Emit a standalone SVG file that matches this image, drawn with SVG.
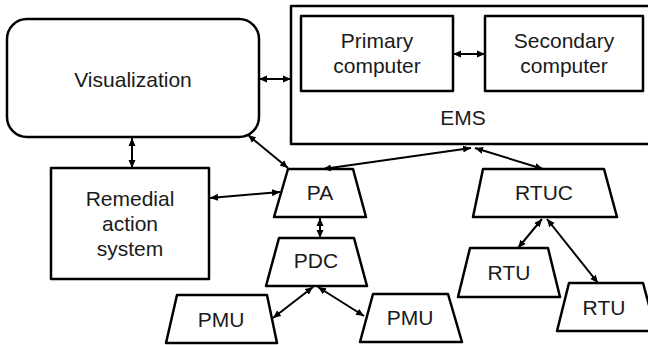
<svg xmlns="http://www.w3.org/2000/svg" width="648" height="345" viewBox="0 0 648 345">
<style>
.box{fill:#fff;stroke:#000;stroke-width:2.5;stroke-linejoin:round}
.t{font-family:"Liberation Sans",Arial,sans-serif;font-size:21px;fill:#1a1a1a;text-anchor:middle}
.c{stroke:#000;stroke-width:2;fill:none;marker-start:url(#ah);marker-end:url(#ah)}
</style>
<defs>
<marker id="ah" markerUnits="userSpaceOnUse" markerWidth="10" markerHeight="8" refX="8" refY="4" orient="auto-start-reverse">
<path d="M0,0.5 L8,4 L0,7.5 Z" fill="#000"/>
</marker>
</defs>
<g id="visualization">
<rect class="box" x="7" y="19" width="252" height="118" rx="20"/>
<text class="t" x="133" y="87">Visualization</text>
</g>
<g id="ems">
<rect class="box" x="291" y="6" width="370" height="138"/>
<text class="t" x="463" y="125">EMS</text>
</g>
<g id="primary">
<rect class="box" x="301" y="16" width="152" height="75"/>
<text class="t" x="377" y="48">Primary</text>
<text class="t" x="377" y="73">computer</text>
</g>
<g id="secondary">
<rect class="box" x="485" y="16" width="158" height="75"/>
<text class="t" x="564" y="48">Secondary</text>
<text class="t" x="564" y="73">computer</text>
</g>
<g id="remedial">
<rect class="box" x="51" y="168" width="158" height="111"/>
<text class="t" x="130" y="206">Remedial</text>
<text class="t" x="130" y="231">action</text>
<text class="t" x="130" y="256">system</text>
</g>
<g id="pa">
<polygon class="box" points="288,169 353,169 366,217 274,217"/>
<text class="t" x="320" y="200">PA</text>
</g>
<g id="pdc">
<polygon class="box" points="279,238 354,238 367,286 266,286"/>
<text class="t" x="316" y="268">PDC</text>
</g>
<g id="pmu1">
<polygon class="box" points="177,295 267,295 277,343 166,343"/>
<text class="t" x="221" y="327">PMU</text>
</g>
<g id="pmu2">
<polygon class="box" points="373,294 448,294 462,342 360,342"/>
<text class="t" x="410" y="325">PMU</text>
</g>
<g id="rtuc">
<polygon class="box" points="483,169 604,169 617,217 473,217"/>
<text class="t" x="544" y="200">RTUC</text>
</g>
<g id="rtu1">
<polygon class="box" points="470,248 548,248 560,297 458,297"/>
<text class="t" x="509" y="280">RTU</text>
</g>
<g id="rtu2">
<polygon class="box" points="569,283 643,283 656,331 557,331"/>
<text class="t" x="604" y="315">RTU</text>
</g>
<g id="connectors">
<line class="c" x1="259" y1="79" x2="291" y2="79"/>
<line class="c" x1="453" y1="54" x2="485" y2="54"/>
<line class="c" x1="132" y1="138" x2="132" y2="168"/>
<line class="c" x1="248" y1="135" x2="288" y2="168"/>
<line class="c" x1="210" y1="198" x2="280" y2="192"/>
<line class="c" x1="323" y1="169" x2="471" y2="148"/>
<line class="c" x1="475" y1="148" x2="543" y2="169"/>
<line class="c" x1="320" y1="218" x2="320" y2="238"/>
<line class="c" x1="313" y1="287" x2="273" y2="318"/>
<line class="c" x1="318" y1="287" x2="364" y2="316"/>
<line class="c" x1="542" y1="219" x2="518" y2="248"/>
<line class="c" x1="547" y1="219" x2="598" y2="283"/>
</g>
</svg>
